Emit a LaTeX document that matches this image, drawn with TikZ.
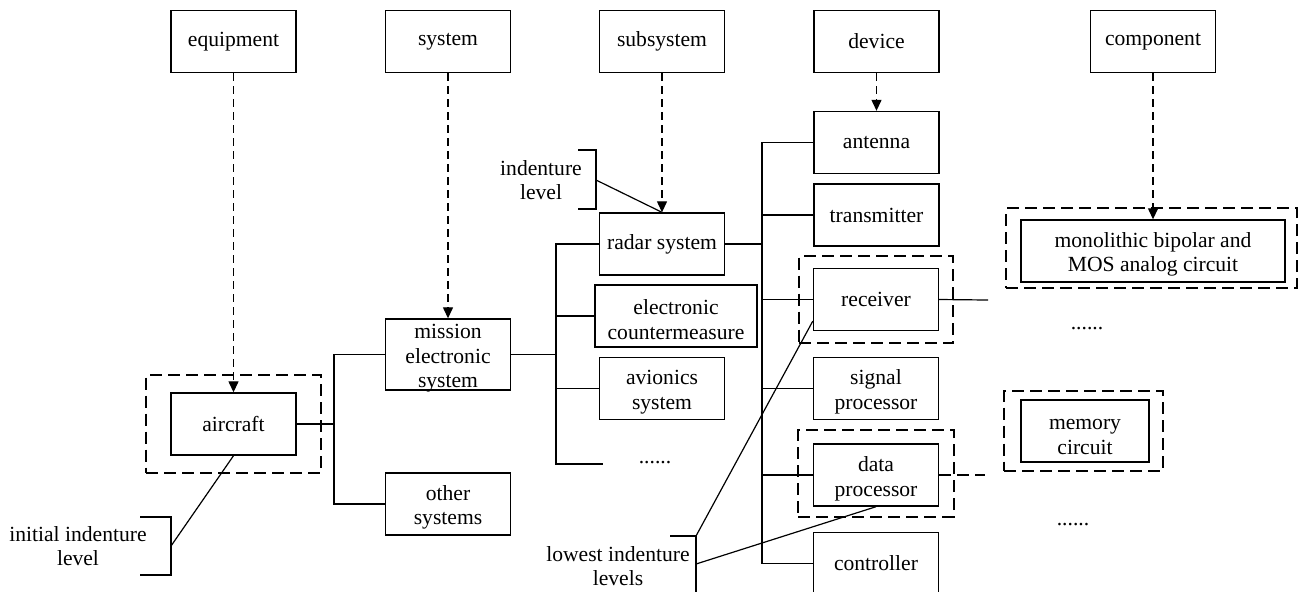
\documentclass[tikz,border=0pt]{standalone}
\usepackage{fontspec}
\setmainfont{Liberation Serif}
\usetikzlibrary{arrows.meta, positioning, fit, calc}
\newcommand\sinkline{\rule{0pt}{11pt}}  % taller first line, so the lines sit lower
\tikzset{
  unitbox/.style={
    rectangle, draw=black, line width=0.7pt, fill=white,
    minimum width=62.5pt, minimum height=31pt, align=center, inner sep=1pt,
    font=\fontsize{10.8}{12.3}\selectfont},
  tierbox/.style ={unitbox},
  groupbox/.style={rectangle, draw=black, line width=0.9pt,
                   dash pattern=on 6pt off 3pt, inner sep=0pt},
  link/.style    ={draw=black, line width=0.6pt},                     % tree branch
  drill/.style   ={-{Triangle[length=5.5pt,width=5pt]}, draw=black,
                   line width=0.65pt, dash pattern=on 4pt off 2.5pt},  % level to item
  tag/.style     ={align=center, inner sep=0pt,
                   font=\fontsize{10.8}{11.6}\selectfont},
  dots/.style    ={inner sep=0pt, font=\fontsize{10.8}{12.3}\selectfont},
}
\begin{document}
\begin{tikzpicture}[x=0.5pt, y=-0.5pt]
\useasboundingbox (0,0) rectangle (1299,591);

% ---- levels ----
\node[tierbox] (equip)  at (233.5,41.5) {equipment};
\node[tierbox] (sys)    at (448,41.5)   {system};
\node[tierbox] (subsys) at (662,41.5)   {subsystem};
\node[tierbox] (dev)    at (876.5,41.5) {device};
\node[tierbox] (comp)   at (1153,41.5)  {component};

% ---- aircraft / systems ----
\node[unitbox] (aircraft) at (233.5,424) {aircraft};
\node[unitbox, minimum height=35.5pt, inner ysep=-1.5pt] (mission) at (448,354.5) {\sinkline mission\\electronic\\system};
\node[unitbox] (other) at (448,504) {\sinkline other\\systems};

% ---- subsystems ----
\node[unitbox] (radar) at (662,244) {radar system};
\node[unitbox, minimum width=81pt] (ecm) at (676,316) {\sinkline electronic\\countermeasure};
\node[unitbox] (avionics) at (662,388.5) {\sinkline avionics\\system};
\node[dots] (subdots) at (655,463) {......};

% ---- devices ----
\node[unitbox] (antenna)     at (876.5,142.5) {antenna};
\node[unitbox] (transmitter) at (876.5,215)   {transmitter};
\node[unitbox] (receiver)    at (876,299.5)   {receiver};
\node[unitbox] (sigproc)     at (876,388.5)   {\sinkline signal\\processor};
\node[unitbox] (dataproc)    at (876,475)     {\sinkline data\\processor};
\node[unitbox] (controller)  at (876,563.5)   {controller};

% ---- components ----
\node[unitbox, minimum width=132pt] (mono) at (1153,251) {\sinkline monolithic bipolar and\\MOS analog circuit};
\node[dots] (compdots1) at (1087,329) {......};
\node[unitbox, minimum width=64pt] (memory) at (1085,431) {\sinkline memory\\circuit};
\node[dots] (compdots2) at (1073,525) {......};

% ---- dashed groups ----
\node[groupbox, fit=(aircraft), inner xsep=12pt, inner ysep=8.75pt] (aircraftgrp) {};
\node[groupbox, fit=(receiver), inner xsep=6.75pt, inner ysep=6pt] (receivergrp) {};
\node[groupbox, fit=(dataproc), inner xsep=7.25pt, inner ysep=5.75pt, yshift=0.75pt] (dataprocgrp) {};
\node[groupbox, fit=(mono), inner xsep=6.25pt, inner ysep=4pt, xshift=-0.75pt, yshift=1.5pt] (monogrp) {};
\node[groupbox, fit=(memory), inner xsep=7.25pt, inner ysep=4.25pt, xshift=-0.75pt] (memorygrp) {};

% ---- level arrows ----
\draw[drill] (equip.south)  -- (aircraft.north);
\draw[drill] (sys.south)    -- (mission.north);
\draw[drill] (subsys.south) -- (radar.north);
\draw[drill] (dev.south)    -- (antenna.north);
\draw[drill] (comp.south)   -- (mono.north);

% ---- branches ----
\coordinate (bus1) at (334,0);
\coordinate (bus2) at (556,0);
\coordinate (bus3) at (762,0);
\coordinate (subend)  at (603,464);
\coordinate (recvend) at (988,300);
\coordinate (dataend) at (985,475);

\draw[link] (mission.west) -- (mission.west -| bus1) |- (other.west);
\draw[link] (aircraft.east) -- (aircraft.east -| bus1);

\draw[link] (radar.west) -- (radar.west -| bus2) |- (subend);
\foreach \n in {ecm,avionics}
  \draw[link] (\n.west -| bus2) -- (\n.west);
\draw[link] (mission.east) -- (mission.east -| bus2);

\draw[link] (antenna.west) -- (antenna.west -| bus3) |- (controller.west);
\foreach \n in {transmitter,receiver,sigproc,dataproc}
  \draw[link] (\n.west -| bus3) -- (\n.west);
\draw[link] (radar.east) -- (radar.east -| bus3);

\draw[link] (receiver.east) -- (recvend);
\draw[link, dash pattern=on 6pt off 3pt] (dataproc.east) -- (dataend);

% ---- indenture notes ----
\node[tag] (indlbl) at (541,180) {indenture\\level};
\draw[link] (578,150) -- (596,150) -- (596,209) -- (578,209);
\coordinate (indbr) at (596,180);
\draw[link] (indbr) -- (radar.north);

\node[tag] (initlbl) at (78,546) {initial indenture\\level};
\draw[link] (140,517) -- (171,517) -- (171,575) -- (140,575);
\coordinate (initbr) at (171,546);
\draw[link] (initbr) -- (aircraft.south);

\node[tag] (lowlbl) at (618,566) {lowest indenture\\levels};
\draw[link] (670,536) -- (696,536) -- (696,598) -- (670,598);
\coordinate (lowtop) at (696,536);
\coordinate (lowmid) at (696,564);
\draw[link] (lowtop) -- ($(receiver.south west)!0.16!(receiver.north west)$);
\draw[link] (lowmid) -- (dataproc.south);

\end{tikzpicture}
\end{document}
